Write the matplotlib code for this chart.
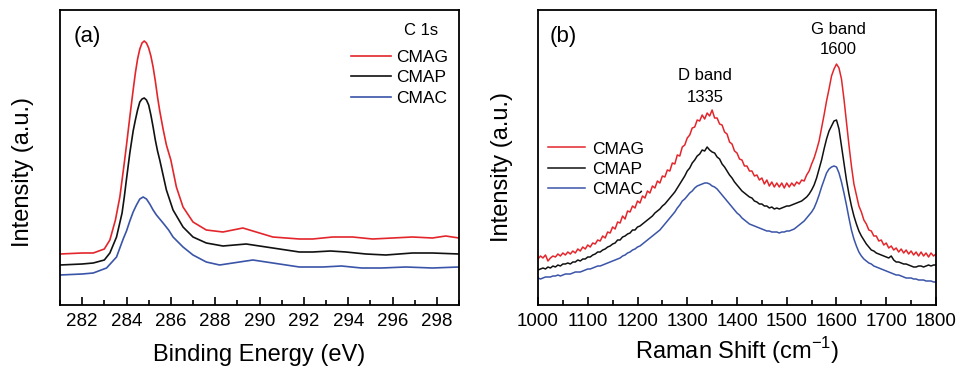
import matplotlib
matplotlib.use("Agg")
import matplotlib.pyplot as plt
from matplotlib.ticker import MultipleLocator

plt.rcParams['font.family'] = ['Liberation Sans', 'DejaVu Sans']
plt.rcParams['mathtext.fontset'] = 'custom'
plt.rcParams['mathtext.rm'] = 'Liberation Sans'

# ---------------- data: XPS C 1s (panel a) ----------------
xps_x_cmag = [281.0, 282.0, 282.5, 283.0, 283.25, 283.5, 283.7, 283.9, 284.0, 284.15,
              284.3, 284.4, 284.5, 284.6, 284.7, 284.8, 284.9, 285.0, 285.1, 285.2,
              285.3, 285.4, 285.5, 285.65, 285.8, 286.0, 286.25, 286.55, 287.0, 287.6,
              288.35, 288.8, 289.25, 289.85, 290.6, 291.8, 292.4, 293.3, 294.2, 295.1,
              296.0, 296.9, 297.8, 298.4, 299.0]
xps_y_cmag = [51, 52, 52, 56, 65, 85, 108, 142, 160, 188,
              215, 232, 246, 256, 262, 264, 262, 257, 249, 238,
              224, 208, 194, 176, 160, 145, 118, 98, 83, 75,
              73, 75, 77, 73, 68, 66, 66, 68, 68, 66,
              67, 68, 67, 69, 67]

xps_x_cmap = [281.0, 282.0, 282.5, 283.0, 283.25, 283.55, 283.8, 283.9, 284.0, 284.15,
              284.3, 284.4, 284.5, 284.6, 284.7, 284.8, 284.9, 285.0, 285.1, 285.2,
              285.3, 285.4, 285.5, 285.65, 285.8, 286.1, 286.55, 287.0, 287.6, 288.35,
              289.4, 290.6, 291.8, 292.4, 293.2, 293.9, 294.8, 295.7, 296.9, 297.8, 299.0]
xps_y_cmap = [40, 41, 42, 45, 52, 68, 92, 108, 126, 152,
              174, 185, 195, 203, 206, 207, 205, 200, 190, 178,
              165, 154, 145, 130, 115, 95, 78, 68, 62, 59,
              61, 57, 53, 53, 54, 53, 51, 50, 52, 52, 51]

xps_x_cmac = [281.0, 282.0, 282.5, 283.1, 283.55, 283.85, 284.0, 284.15, 284.3, 284.45,
              284.6, 284.75, 284.9, 285.05, 285.2, 285.35, 285.5, 285.65, 285.9, 286.1,
              286.55, 287.0, 287.6, 288.2, 288.8, 289.7, 290.6, 291.8, 292.85, 293.7,
              294.6, 295.5, 296.6, 297.8, 299.0]
xps_y_cmac = [30, 31, 32, 37, 48, 66, 74, 84, 93, 100,
              106, 108, 106, 101, 95, 90, 86, 82, 75, 68,
              58, 50, 43, 40, 42, 45, 42, 38, 38, 39,
              37, 37, 38, 37, 38]

xps_ticks = [282, 284, 286, 288, 290, 292, 294, 296, 298]

# ---------------- data: Raman (panel b), every 5 cm-1 ----------------
raman_x = list(range(1000, 1801, 5))
raman_cmag = [46, 49, 47, 50, 44, 47, 49, 48, 51, 49, 52, 50, 53, 51, 54, 52, 56, 54, 58, 56,
              60, 58, 62, 61, 65, 64, 69, 67, 73, 72, 78, 76, 83, 82, 89, 86, 94, 93, 99, 97,
              104, 102, 109, 107, 114, 112, 119, 117, 124, 122, 129, 128, 135, 134, 142, 141, 150, 149, 158, 160,
              167, 170, 177, 178, 185, 184, 190, 186, 192, 189, 195, 187, 187, 181, 180, 173, 171, 163, 161, 154,
              152, 146, 145, 139, 139, 134, 134, 129, 130, 125, 127, 121, 125, 119, 123, 118, 122, 118, 122, 117,
              122, 118, 122, 119, 123, 121, 125, 124, 130, 134, 141, 147, 155, 164, 177, 190, 204, 216, 229, 236,
              241, 237, 226, 206, 183, 160, 139, 121, 110, 99, 93, 85, 81, 75, 74, 69, 69, 64, 65, 60,
              62, 57, 59, 55, 57, 53, 56, 52, 55, 51, 54, 50, 53, 49, 53, 49, 52, 48, 52, 49,
              51]
raman_cmap = [35, 36, 37, 36, 38, 37, 39, 38, 40, 39, 41, 41, 42, 41, 43, 43, 45, 44, 46, 46,
              48, 48, 50, 51, 53, 53, 55, 56, 58, 59, 61, 62, 65, 65, 68, 69, 71, 72, 75, 75,
              78, 79, 81, 83, 85, 87, 89, 92, 94, 96, 99, 101, 104, 107, 110, 113, 117, 121, 125, 129,
              134, 137, 142, 145, 149, 151, 155, 154, 158, 155, 153, 152, 148, 146, 141, 138, 134, 130, 127, 123,
              120, 117, 114, 112, 110, 108, 107, 104, 103, 101, 101, 99, 99, 97, 98, 96, 97, 96, 97, 98,
              99, 99, 100, 101, 102, 103, 104, 106, 108, 111, 115, 120, 127, 136, 145, 156, 166, 174, 179, 184,
              185, 176, 159, 142, 125, 111, 99, 89, 81, 74, 69, 65, 61, 58, 55, 54, 52, 51, 50, 49,
              48, 47, 49, 45, 43, 43, 42, 41, 41, 40, 39, 38, 38, 39, 39, 38, 39, 40, 39, 40,
              40]
raman_cmac = [27, 26, 27, 28, 28, 28, 29, 29, 30, 29, 30, 31, 31, 31, 32, 33, 33, 33, 34, 35,
              36, 36, 37, 38, 39, 39, 40, 41, 42, 43, 44, 45, 46, 47, 49, 50, 52, 53, 55, 56,
              58, 59, 61, 63, 65, 67, 69, 71, 73, 75, 78, 81, 84, 87, 90, 93, 97, 100, 104, 106,
              109, 112, 114, 117, 119, 120, 121, 122, 122, 121, 119, 118, 116, 113, 110, 107, 104, 101, 98, 95,
              92, 90, 87, 85, 83, 81, 80, 79, 78, 77, 76, 75, 74, 74, 73, 73, 73, 72, 73, 73,
              74, 74, 75, 76, 78, 80, 82, 84, 87, 90, 93, 97, 103, 110, 118, 125, 132, 136, 138, 139,
              138, 132, 123, 112, 100, 87, 75, 66, 59, 53, 49, 46, 44, 42, 41, 39, 38, 37, 36, 35,
              34, 33, 32, 31, 30, 30, 29, 28, 27, 27, 27, 26, 26, 25, 25, 25, 24, 24, 24, 23,
              23]
raman_ticks = [1000, 1100, 1200, 1300, 1400, 1500, 1600, 1700, 1800]

labels = ['CMAG', 'CMAP', 'CMAC']
colors = ['#e3262b', '#111111', '#3a54a8']

# ---------------- figure ----------------
fig = plt.figure(figsize=(9.59, 3.69), dpi=100)
ax1 = fig.add_axes([60/959, 64/369, 399/959, 295/369])
ax2 = fig.add_axes([538/959, 64/369, 398/959, 295/369])

lw = 1.2
for x, y, c, l in [(xps_x_cmag, xps_y_cmag, colors[0], labels[0]),
                   (xps_x_cmap, xps_y_cmap, colors[1], labels[1]),
                   (xps_x_cmac, xps_y_cmac, colors[2], labels[2])]:
    ax1.plot(x, y, color=c, lw=lw, label=l)

for y, c, l in zip([raman_cmag, raman_cmap, raman_cmac], colors, labels):
    ax2.plot(raman_x, y, color=c, lw=1.1, label=l)

ax1.set_xlim(281, 299)
ax1.set_xticks(xps_ticks)
ax1.xaxis.set_minor_locator(MultipleLocator(1))
ax2.set_xlim(1000, 1800)
ax2.set_xticks(raman_ticks)
ax2.xaxis.set_minor_locator(MultipleLocator(50))

for ax in (ax1, ax2):
    ax.set_ylim(0, 295)
    ax.set_yticks([])
    for s in ax.spines.values():
        s.set_linewidth(1.3)
    ax.tick_params(axis='x', which='major', direction='in', length=6, width=1.2,
                   labelsize=13.5, pad=6)
    ax.tick_params(axis='x', which='minor', direction='in', length=3.5, width=1.2)

ax1.set_ylabel('Intensity (a.u.)', fontsize=17, va='center')
ax1.yaxis.set_label_coords((23 - 60) / 399, 0.45)
ax2.set_ylabel('Intensity (a.u.)', fontsize=17, va='center')
ax2.yaxis.set_label_coords((502 - 538) / 398, 0.468)

ax1.set_xlabel('Binding Energy (eV)', fontsize=17, va='baseline')
ax1.xaxis.set_label_coords(0.5, (8 - 64) / 295)
ax2.set_xlabel('Raman Shift (cm$^{\\mathregular{-1}}$)', fontsize=17, va='baseline')
ax2.xaxis.set_label_coords(0.5, (10 - 64) / 295)

ax1.text(0.035, 0.91, '(a)', transform=ax1.transAxes, fontsize=16, va='center', ha='left')
ax2.text(0.03, 0.91, '(b)', transform=ax2.transAxes, fontsize=16, va='center', ha='left')

ax1.text(0.905, 0.93, 'C 1s', transform=ax1.transAxes, fontsize=12, ha='center', va='center')
ax1.legend(loc='upper right', bbox_to_anchor=(1.0, 0.9), frameon=False, fontsize=12.5,
           handlelength=2.3, handletextpad=0.3, labelspacing=0.3, borderaxespad=0.2)
ax2.legend(loc='upper left', bbox_to_anchor=(0.0, 0.59), frameon=False, fontsize=12.5,
           handlelength=2.1, handletextpad=0.4, labelspacing=0.3, borderaxespad=0.2)

ax2.text(1336, 229, 'D band', fontsize=12, ha='center', va='center')
ax2.text(1336, 208, '1335', fontsize=12, ha='center', va='center')
ax2.text(1604, 276, 'G band', fontsize=12, ha='center', va='center')
ax2.text(1604, 256, '1600', fontsize=12, ha='center', va='center')

fig.savefig('out.png', dpi=100)
